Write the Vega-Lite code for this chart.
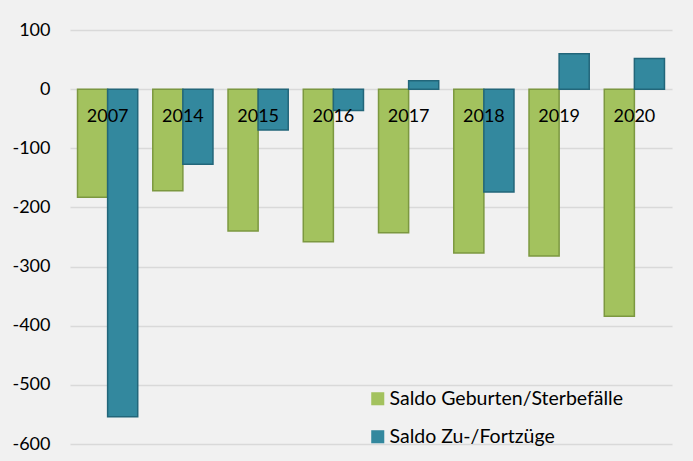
{
  "$schema": "https://vega.github.io/schema/vega-lite/v6.json",
  "autosize": "none",
  "width": 602,
  "height": 414,
  "padding": {"left": 70, "top": 30, "right": 21, "bottom": 17},
  "background": "#f1f1f1",
  "config": {"view": {"stroke": null}, "font": "Lato"},
  "data": {"values": [
    {"year": "2007", "series": "Saldo Geburten/Sterbefälle", "value": -183},
    {"year": "2007", "series": "Saldo Zu-/Fortzüge", "value": -554},
    {"year": "2014", "series": "Saldo Geburten/Sterbefälle", "value": -172},
    {"year": "2014", "series": "Saldo Zu-/Fortzüge", "value": -127},
    {"year": "2015", "series": "Saldo Geburten/Sterbefälle", "value": -240},
    {"year": "2015", "series": "Saldo Zu-/Fortzüge", "value": -69},
    {"year": "2016", "series": "Saldo Geburten/Sterbefälle", "value": -258},
    {"year": "2016", "series": "Saldo Zu-/Fortzüge", "value": -36},
    {"year": "2017", "series": "Saldo Geburten/Sterbefälle", "value": -243},
    {"year": "2017", "series": "Saldo Zu-/Fortzüge", "value": 14},
    {"year": "2018", "series": "Saldo Geburten/Sterbefälle", "value": -277},
    {"year": "2018", "series": "Saldo Zu-/Fortzüge", "value": -174},
    {"year": "2019", "series": "Saldo Geburten/Sterbefälle", "value": -282},
    {"year": "2019", "series": "Saldo Zu-/Fortzüge", "value": 60},
    {"year": "2020", "series": "Saldo Geburten/Sterbefälle", "value": -384},
    {"year": "2020", "series": "Saldo Zu-/Fortzüge", "value": 52}
  ]},
  "encoding": {
    "x": {"field": "year", "type": "nominal", "axis": null,
          "scale": {"paddingInner": 0.2, "paddingOuter": 0.1}}
  },
  "layer": [
    {
      "mark": {"type": "bar", "strokeWidth": 1.5},
      "encoding": {
        "xOffset": {"field": "series", "type": "nominal",
                    "scale": {"domain": ["Saldo Geburten/Sterbefälle", "Saldo Zu-/Fortzüge"]}},
        "y": {"field": "value", "type": "quantitative",
              "scale": {"domain": [-600, 100], "nice": false},
              "axis": {"title": null, "values": [-600, -500, -400, -300, -200, -100, 0, 100],
                       "grid": true, "gridColor": "#d9d9d9", "gridWidth": 1.5,
                       "domain": false, "ticks": false, "labelPadding": 20,
                       "labelFontSize": 18, "labelColor": "#000000",
                       "labelExpr": "'' + datum.value"}},
        "color": {"field": "series", "type": "nominal",
                  "scale": {"domain": ["Saldo Geburten/Sterbefälle", "Saldo Zu-/Fortzüge"],
                            "range": ["#a3c25e", "#33889e"]},
                  "legend": {"title": null, "orient": "none", "legendX": 298, "legendY": 359,
                             "symbolType": "square", "symbolSize": 170, "labelFontSize": 19.5,
                             "labelColor": "#000000", "rowPadding": 17, "labelOffset": 2,
                             "labelLimit": 0, "symbolStrokeWidth": 0}},
        "stroke": {"field": "series", "type": "nominal",
                   "scale": {"domain": ["Saldo Geburten/Sterbefälle", "Saldo Zu-/Fortzüge"],
                             "range": ["#7c9840", "#22667a"]},
                   "legend": null}
      }
    },
    {
      "transform": [{"filter": "datum.series === 'Saldo Geburten/Sterbefälle'"}],
      "mark": {"type": "text", "fontSize": 18, "color": "#000000", "baseline": "middle", "dy": 28},
      "encoding": {
        "y": {"datum": 0},
        "text": {"field": "year"}
      }
    }
  ]
}
